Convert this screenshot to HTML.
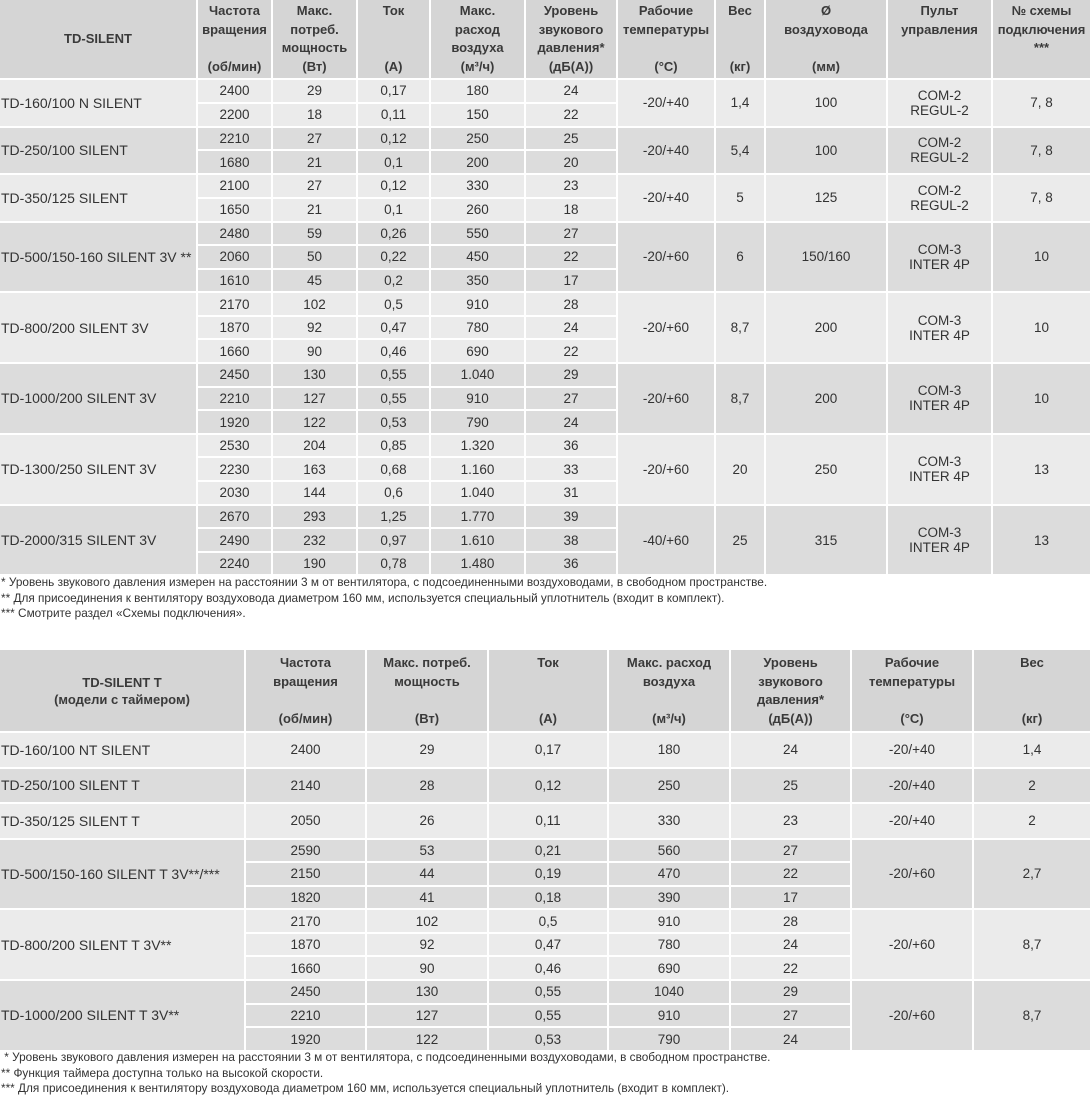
<!DOCTYPE html>
<html><head><meta charset="utf-8">
<style>
body{margin:0;width:1090px;height:1099px;background:#fff;font-family:"Liberation Sans","DejaVu Sans",sans-serif;color:#333;position:relative;overflow:hidden}
table{border-collapse:collapse;table-layout:fixed;position:absolute;left:0;width:1090px}
td,th{border:2px solid #fff;padding:0;text-align:center;font-size:13.5px;overflow:hidden;white-space:nowrap}
td:first-child,th:first-child{border-left:0}
td:last-child,th:last-child{border-right:0}
th{background:#d5d5d5;font-weight:bold;font-size:13px;line-height:18.5px;vertical-align:top;padding-top:2px;color:#3a3a3a}
td.m{text-align:left;padding-left:1px;font-size:14px}
tr.a td{background:#ebebeb}
tr.b td{background:#dcdcdc}
.fn{position:absolute;left:1px;font-size:11.8px;color:#333;line-height:13px;white-space:nowrap}
</style></head><body>

<table style="top:-2px">
<colgroup><col style="width:197px"><col style="width:75px"><col style="width:85px"><col style="width:73px"><col style="width:95px"><col style="width:92px"><col style="width:98px"><col style="width:50px"><col style="width:122px"><col style="width:105px"><col style="width:98px"></colgroup>
<tr style="height:80px"><th style="vertical-align:middle;padding-top:0">TD-SILENT</th><th>Частота<br>вращения<br><br>(об/мин)</th><th>Макс.<br>потреб.<br>мощность<br>(Вт)</th><th>Ток<br><br><br>(А)</th><th>Макс.<br>расход<br>воздуха<br>(м³/ч)</th><th>Уровень<br>звукового<br>давления*<br>(дБ(А))</th><th>Рабочие<br>температуры<br><br>(°C)</th><th>Вес<br><br><br>(кг)</th><th>Ø<br>воздуховода<br><br>(мм)</th><th>Пульт<br>управления</th><th>№ схемы<br>подключения<br>***</th></tr>

<tr class="a" style="height:23.75px"><td class="m" rowspan="2">TD-160/100 N SILENT</td><td>2400</td><td>29</td><td>0,17</td><td>180</td><td>24</td><td rowspan="2">-20/+40</td><td rowspan="2">1,4</td><td rowspan="2">100</td><td rowspan="2">COM-2<br>REGUL-2</td><td rowspan="2">7, 8</td></tr>
<tr class="a" style="height:23.75px"><td>2200</td><td>18</td><td>0,11</td><td>150</td><td>22</td></tr>

<tr class="b" style="height:23.75px"><td class="m" rowspan="2">TD-250/100 SILENT</td><td>2210</td><td>27</td><td>0,12</td><td>250</td><td>25</td><td rowspan="2">-20/+40</td><td rowspan="2">5,4</td><td rowspan="2">100</td><td rowspan="2">COM-2<br>REGUL-2</td><td rowspan="2">7, 8</td></tr>
<tr class="b" style="height:23.75px"><td>1680</td><td>21</td><td>0,1</td><td>200</td><td>20</td></tr>

<tr class="a" style="height:23.75px"><td class="m" rowspan="2">TD-350/125 SILENT</td><td>2100</td><td>27</td><td>0,12</td><td>330</td><td>23</td><td rowspan="2">-20/+40</td><td rowspan="2">5</td><td rowspan="2">125</td><td rowspan="2">COM-2<br>REGUL-2</td><td rowspan="2">7, 8</td></tr>
<tr class="a" style="height:23.75px"><td>1650</td><td>21</td><td>0,1</td><td>260</td><td>18</td></tr>

<tr class="b" style="height:23.6px"><td class="m" rowspan="3">TD-500/150-160 SILENT 3V **</td><td>2480</td><td>59</td><td>0,26</td><td>550</td><td>27</td><td rowspan="3">-20/+60</td><td rowspan="3">6</td><td rowspan="3">150/160</td><td rowspan="3">COM-3<br>INTER 4P</td><td rowspan="3">10</td></tr>
<tr class="b" style="height:23.6px"><td>2060</td><td>50</td><td>0,22</td><td>450</td><td>22</td></tr>
<tr class="b" style="height:23.6px"><td>1610</td><td>45</td><td>0,2</td><td>350</td><td>17</td></tr>

<tr class="a" style="height:23.6px"><td class="m" rowspan="3">TD-800/200 SILENT 3V</td><td>2170</td><td>102</td><td>0,5</td><td>910</td><td>28</td><td rowspan="3">-20/+60</td><td rowspan="3">8,7</td><td rowspan="3">200</td><td rowspan="3">COM-3<br>INTER 4P</td><td rowspan="3">10</td></tr>
<tr class="a" style="height:23.6px"><td>1870</td><td>92</td><td>0,47</td><td>780</td><td>24</td></tr>
<tr class="a" style="height:23.6px"><td>1660</td><td>90</td><td>0,46</td><td>690</td><td>22</td></tr>

<tr class="b" style="height:23.6px"><td class="m" rowspan="3">TD-1000/200 SILENT 3V</td><td>2450</td><td>130</td><td>0,55</td><td>1.040</td><td>29</td><td rowspan="3">-20/+60</td><td rowspan="3">8,7</td><td rowspan="3">200</td><td rowspan="3">COM-3<br>INTER 4P</td><td rowspan="3">10</td></tr>
<tr class="b" style="height:23.6px"><td>2210</td><td>127</td><td>0,55</td><td>910</td><td>27</td></tr>
<tr class="b" style="height:23.6px"><td>1920</td><td>122</td><td>0,53</td><td>790</td><td>24</td></tr>

<tr class="a" style="height:23.6px"><td class="m" rowspan="3">TD-1300/250 SILENT 3V</td><td>2530</td><td>204</td><td>0,85</td><td>1.320</td><td>36</td><td rowspan="3">-20/+60</td><td rowspan="3">20</td><td rowspan="3">250</td><td rowspan="3">COM-3<br>INTER 4P</td><td rowspan="3">13</td></tr>
<tr class="a" style="height:23.6px"><td>2230</td><td>163</td><td>0,68</td><td>1.160</td><td>33</td></tr>
<tr class="a" style="height:23.6px"><td>2030</td><td>144</td><td>0,6</td><td>1.040</td><td>31</td></tr>

<tr class="b" style="height:23.6px"><td class="m" rowspan="3">TD-2000/315 SILENT 3V</td><td>2670</td><td>293</td><td>1,25</td><td>1.770</td><td>39</td><td rowspan="3">-40/+60</td><td rowspan="3">25</td><td rowspan="3">315</td><td rowspan="3">COM-3<br>INTER 4P</td><td rowspan="3">13</td></tr>
<tr class="b" style="height:23.6px"><td>2490</td><td>232</td><td>0,97</td><td>1.610</td><td>38</td></tr>
<tr class="b" style="height:23.6px"><td>2240</td><td>190</td><td>0,78</td><td>1.480</td><td>36</td></tr>
</table>

<div class="fn" style="top:576px">* Уровень звукового давления измерен на расстоянии 3 м от вентилятора, с подсоединенными воздуховодами, в свободном пространстве.</div>
<div class="fn" style="top:592px">** Для присоединения к вентилятору воздуховода диаметром 160 мм, используется специальный уплотнитель (входит в комплект).</div>
<div class="fn" style="top:607px">*** Смотрите раздел «Схемы подключения».</div>

<table style="top:648px">
<colgroup><col style="width:245px"><col style="width:121px"><col style="width:122px"><col style="width:120px"><col style="width:122px"><col style="width:121px"><col style="width:122px"><col style="width:117px"></colgroup>
<tr style="height:83px"><th style="vertical-align:middle;line-height:17px;padding-top:0">TD-SILENT T<br>(модели с таймером)</th><th style="padding-top:4px">Частота<br>вращения<br><br>(об/мин)</th><th style="padding-top:4px">Макс. потреб.<br>мощность<br><br>(Вт)</th><th style="padding-top:4px">Ток<br><br><br>(А)</th><th style="padding-top:4px">Макс. расход<br>воздуха<br><br>(м³/ч)</th><th style="padding-top:4px">Уровень<br>звукового<br>давления*<br>(дБ(А))</th><th style="padding-top:4px">Рабочие<br>температуры<br><br>(°C)</th><th style="padding-top:4px">Вес<br><br><br>(кг)</th></tr>
<tr class="a" style="height:35.5px"><td class="m">TD-160/100 NT SILENT</td><td>2400</td><td>29</td><td>0,17</td><td>180</td><td>24</td><td>-20/+40</td><td>1,4</td></tr>
<tr class="b" style="height:35.5px"><td class="m">TD-250/100 SILENT T</td><td>2140</td><td>28</td><td>0,12</td><td>250</td><td>25</td><td>-20/+40</td><td>2</td></tr>
<tr class="a" style="height:35.5px"><td class="m">TD-350/125 SILENT T</td><td>2050</td><td>26</td><td>0,11</td><td>330</td><td>23</td><td>-20/+40</td><td>2</td></tr>

<tr class="b" style="height:23.6px"><td class="m" rowspan="3">TD-500/150-160 SILENT T 3V**/***</td><td>2590</td><td>53</td><td>0,21</td><td>560</td><td>27</td><td rowspan="3">-20/+60</td><td rowspan="3">2,7</td></tr>
<tr class="b" style="height:23.6px"><td>2150</td><td>44</td><td>0,19</td><td>470</td><td>22</td></tr>
<tr class="b" style="height:23.6px"><td>1820</td><td>41</td><td>0,18</td><td>390</td><td>17</td></tr>

<tr class="a" style="height:23.6px"><td class="m" rowspan="3">TD-800/200 SILENT T 3V**</td><td>2170</td><td>102</td><td>0,5</td><td>910</td><td>28</td><td rowspan="3">-20/+60</td><td rowspan="3">8,7</td></tr>
<tr class="a" style="height:23.6px"><td>1870</td><td>92</td><td>0,47</td><td>780</td><td>24</td></tr>
<tr class="a" style="height:23.6px"><td>1660</td><td>90</td><td>0,46</td><td>690</td><td>22</td></tr>

<tr class="b" style="height:23.6px"><td class="m" rowspan="3">TD-1000/200 SILENT T 3V**</td><td>2450</td><td>130</td><td>0,55</td><td>1040</td><td>29</td><td rowspan="3">-20/+60</td><td rowspan="3">8,7</td></tr>
<tr class="b" style="height:23.6px"><td>2210</td><td>127</td><td>0,55</td><td>910</td><td>27</td></tr>
<tr class="b" style="height:23.6px"><td>1920</td><td>122</td><td>0,53</td><td>790</td><td>24</td></tr>
</table>

<div class="fn" style="top:1051px">&nbsp;* Уровень звукового давления измерен на расстоянии 3 м от вентилятора, с подсоединенными воздуховодами, в свободном пространстве.</div>
<div class="fn" style="top:1067px">** Функция таймера доступна только на высокой скорости.</div>
<div class="fn" style="top:1082px">*** Для присоединения к вентилятору воздуховода диаметром 160 мм, используется специальный уплотнитель (входит в комплект).</div>
</body></html>
